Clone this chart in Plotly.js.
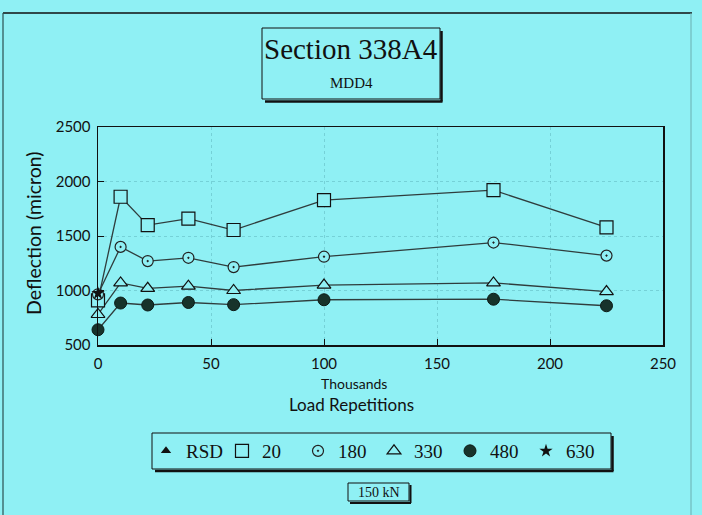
<!DOCTYPE html>
<html><head><meta charset="utf-8">
<script src="https://cdn.plot.ly/plotly-3.0.1.min.js"></script>
<style>html,body{margin:0;padding:0;background:#8ff0f4;}#chart{width:702px;height:515px;}</style>
</head><body><div id="chart"></div>
<script>
// ---- data ----
const reps = [0, 10, 22, 40, 60, 100, 175, 225];          // thousands of load repetitions
const d20  = [910, 1860, 1600, 1660, 1555, 1830, 1920, 1580];
const d180 = [965, 1400, 1270, 1300, 1215, 1310, 1440, 1320];
const d330 = [780, 1070, 1020, 1040, 1000, 1050, 1070, 990];
const d480 = [640, 885, 867, 890, 870, 915, 920, 860];
const rsdX = [null], rsdY = [null];                        // RSD: no values shown
const x630 = [0], d630 = [975];
const seriesNames = ["RSD", "20", "180", "330", "480", "630"];

// ---- layout helpers (pixel -> paper) ----
const W = 702, H = 515, L = 98, R = 39, T = 127, B = 170;
const pw = W - L - R, ph = H - T - B;
const px = x => (x - L) / pw;
const py = y => (H - B - y) / ph;
const BG = '#8ff0f4';
const lineCol = '#2f3d3d';

function lineTrace(x, y) {
  return {x, y, mode: 'lines', line: {color: lineCol, width: 1.3}, showlegend: false, hoverinfo: 'skip', cliponaxis: false};
}
function markTrace(name, x, y, marker) {
  return {x, y, name, mode: 'markers', marker, cliponaxis: false, showlegend: true};
}

const traces = [
  lineTrace(reps, d20), lineTrace(reps, d180), lineTrace(reps, d330), lineTrace(reps, d480),
  markTrace(seriesNames[0], rsdX, rsdY, {symbol: 'triangle-up', size: 9, color: '#111'}),
  markTrace(seriesNames[1], reps, d20, {symbol: 'square', size: 13, color: BG, line: {color: '#111', width: 1.2}}),
  markTrace(seriesNames[2], reps, d180, {symbol: 'circle-dot', size: 11, color: BG, line: {color: '#222', width: 1.2}}),
  markTrace(seriesNames[3], reps, d330, {symbol: 'triangle-up', size: 12, color: BG, line: {color: '#111', width: 1.2}}),
  markTrace(seriesNames[4], reps, d480, {symbol: 'circle', size: 12, color: '#17332b', line: {color: '#0c1a16', width: 1}}),
  markTrace(seriesNames[5], x630, d630, {symbol: 'star', size: 10, color: '#111'})
];

function ln(x0, y0, x1, y1, w, c) {
  return {type: 'line', xref: 'paper', yref: 'paper', x0: px(x0), y0: py(y0), x1: px(x1), y1: py(y1),
          line: {color: c || '#111', width: w || 1}};
}
function rect(x0, y0, x1, y1, w) {
  return {type: 'rect', xref: 'paper', yref: 'paper', x0: px(x0), y0: py(y0), x1: px(x1), y1: py(y1),
          line: {color: '#111', width: w || 1}, fillcolor: 'rgba(0,0,0,0)'};
}

const shapes = [
  ln(3, 13, 692, 13, 1.5), ln(3, 13, 3, 515, 1.2, '#2a5050'), ln(691, 13, 691, 515, 1, '#6aaeb0'),
  rect(262, 28, 440, 99, 1), ln(441.5, 31, 441.5, 101.5, 2.5), ln(265, 101.5, 442.5, 101.5, 2.5),
  rect(152, 433, 611, 469, 1), ln(612.5, 436, 612.5, 471, 2.5), ln(155, 471, 613.5, 471, 2.5),
  rect(348, 483, 409, 501, 1), ln(410.5, 485, 410.5, 503, 2), ln(350, 503, 411, 503, 2)
];

function ann(text, x, y, size, family, extra) {
  return Object.assign({text, xref: 'paper', yref: 'paper', x: px(x), y: py(y), showarrow: false,
    xanchor: 'center', yanchor: 'middle', font: {size, family, color: '#111'}}, extra || {});
}
const serif = 'Liberation Serif, Times New Roman, serif';
const sans = 'Lato, Open Sans, sans-serif';

const annotations = [
  ann('Section 338A4', 351, 49, 29, serif),
  ann('MDD4', 351, 83, 15, serif),
  ann('Thousands', 354, 383, 14, sans),
  ann('Load Repetitions', 351, 404, 17, sans),
  ann('150 kN', 379, 492, 14, serif),
  ann('Deflection (micron)', 33, 233, 19.5, sans, {textangle: -90})
];

const axisCommon = {showline: true, mirror: true, linecolor: '#111', linewidth: 1.5,
  ticks: 'inside', ticklen: 6, tickcolor: '#111', tickfont: {size: 15, family: sans, color: '#111'},
  showgrid: true, gridcolor: 'rgba(60,140,150,0.3)', griddash: 'dot', gridwidth: 1, zeroline: false, fixedrange: true};

const layout = {
  width: W, height: H,
  margin: {l: L, r: R, t: T, b: B, pad: 0},
  paper_bgcolor: BG, plot_bgcolor: BG,
  xaxis: Object.assign({}, axisCommon, {range: [0, 250], dtick: 50, tick0: 0, ticklabelstandoff: 4}),
  yaxis: Object.assign({}, axisCommon, {range: [500, 2500], dtick: 500, tick0: 500, ticklabelstandoff: 3}),
  showlegend: true,
  legend: {orientation: 'h', x: px(146), y: py(451), xanchor: 'left', yanchor: 'middle',
    font: {size: 19, family: serif, color: '#111'}, bgcolor: 'rgba(0,0,0,0)', borderwidth: 0,
    itemwidth: 30, entrywidth: 31, entrywidthmode: 'pixels', tracegroupgap: 0},
  shapes, annotations
};

Plotly.newPlot('chart', traces, layout, {displayModeBar: false, staticPlot: true});
</script></body></html>
